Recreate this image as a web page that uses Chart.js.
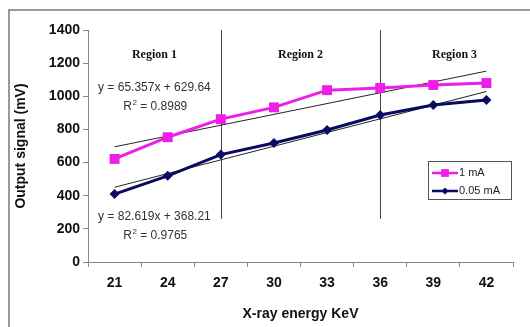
<!DOCTYPE html>
<html>
<head>
<meta charset="utf-8">
<script src="https://cdn.jsdelivr.net/npm/chart.js@4.4.1/dist/chart.umd.min.js"></script>
<style>
  html, body { margin: 0; padding: 0; background: #fff; overflow: hidden; }
  #wrap { width: 530px; height: 327px; position: relative; }
  canvas { display: block; }
</style>
</head>
<body>
<div id="wrap"><canvas id="chart" width="530" height="327"></canvas></div>
<script>
// values
const energies = ['21', '24', '27', '30', '33', '36', '39', '42'];
const signal1mA = [622, 753, 862, 933, 1037, 1050, 1068, 1080];
const signal005mA = [410, 520, 648, 718, 797, 887, 948, 978];
// linear trendline end points (at 21 and 42 keV)
const trend1mA = [695, null, null, null, null, null, null, 1152];
const trend005mA = [451, null, null, null, null, null, null, 1029];
const yTicks = [0, 200, 400, 600, 800, 1000, 1200, 1400];

const regionNames = ['Region 1', 'Region 2', 'Region 3'];
const regionBorders = ['27', '36'];
const equations = [
    { text: 'y = 65.357x + 629.64', r2: '0.8989', at: 1050 },
    { text: 'y = 82.619x + 368.21', r2: '0.9765', at: 272 }
];

const pink = '#ee1ee8';
const navy = '#0a0a60';

//draws frame, region dividers, annotations and the boxed legend
const extrasPlugin = {
    id: 'extras',
    beforeDatasetsDraw(chart) {
        const ctx = chart.ctx;
        const x = chart.scales.x, y = chart.scales.y;
        const area = chart.chartArea;
        ctx.save();
        // outer frame (top and left)
        ctx.strokeStyle = '#9a9a9a';
        ctx.lineWidth = 2;
        ctx.beginPath();
        ctx.moveTo(9, 327);
        ctx.lineTo(9, 10);
        ctx.lineTo(530, 10);
        ctx.stroke();

        // region dividers
        ctx.strokeStyle = '#444';
        ctx.lineWidth = 1;
        regionBorders.forEach(e => {
            const px = Math.round(x.getPixelForValue(energies.indexOf(e))) + 0.5;
            ctx.beginPath();
            ctx.moveTo(px, y.getPixelForValue(1400));
            ctx.lineTo(px, y.getPixelForValue(260));
            ctx.stroke();
        });

        // region titles
        const b1 = x.getPixelForValue(energies.indexOf(regionBorders[0]));
        const b2 = x.getPixelForValue(energies.indexOf(regionBorders[1]));
        const centers = [(area.left + b1) / 2, (b1 + b2) / 2, (b2 + area.right) / 2 + 8];
        ctx.fillStyle = '#111';
        ctx.font = 'bold 12px "Liberation Serif", "Times New Roman", serif';
        ctx.textAlign = 'center';
        ctx.textBaseline = 'middle';
        regionNames.forEach((n, i) => ctx.fillText(n, centers[i], y.getPixelForValue(1250)));

        // trendline equations
        ctx.fillStyle = '#333';
        equations.forEach(eq => {
            const py = y.getPixelForValue(eq.at);
            ctx.font = '12px "Liberation Sans", Arial, sans-serif';
            ctx.textAlign = 'center';
            ctx.fillText(eq.text, centers[0], py);
            const r = 'R  = ' + eq.r2;
            const w = ctx.measureText(r).width;
            const left = centers[0] - w / 2;
            ctx.textAlign = 'left';
            ctx.fillText('R', left, py + 19);
            const rw = ctx.measureText('R').width;
            ctx.fillText(' = ' + eq.r2, left + rw + 5, py + 19);
            ctx.font = '8px "Liberation Sans", Arial, sans-serif';
            ctx.fillText('2', left + rw + 0.5, py + 15);
        });
        ctx.restore();
    },
    afterDatasetsDraw(chart) {
        const ctx = chart.ctx;
        const area = chart.chartArea;
        const lx = area.right - 85, ly = area.top + 131;
        ctx.save();
        ctx.fillStyle = '#fff';
        ctx.fillRect(lx, ly, 83, 38);
        ctx.strokeStyle = '#555';
        ctx.lineWidth = 1;
        ctx.strokeRect(lx + 0.5, ly + 0.5, 83, 38);
        ctx.font = '11px "Liberation Sans", Arial, sans-serif';
        ctx.textBaseline = 'middle';
        ctx.textAlign = 'left';
        chart.data.datasets.filter(d => !d.trend).forEach((d, i) => {
            const ey = ly + 12 + i * 18;
            ctx.strokeStyle = d.borderColor;
            ctx.lineWidth = 2.5;
            ctx.beginPath();
            ctx.moveTo(lx + 4, ey);
            ctx.lineTo(lx + 30, ey);
            ctx.stroke();
            ctx.fillStyle = d.borderColor;
            ctx.lineWidth = 0;
            Chart.helpers.drawPoint(ctx, {
                pointStyle: d.pointStyle, radius: d.pointRadius - 1.5, borderWidth: 0, rotation: 0
            }, lx + 17, ey);
            ctx.fillStyle = '#222';
            ctx.fillText(d.label, lx + 31, ey);
        });
        ctx.restore();
    }
};

const tickFont = { family: '"Liberation Sans", Arial, sans-serif', size: 14, weight: 'bold' };

new Chart(document.getElementById('chart'), {
    type: 'line',
    data: {
        labels: energies,
        datasets: [
            {
                label: '1 mA', data: signal1mA, borderColor: pink, backgroundColor: pink,
                borderWidth: 3, pointStyle: 'rect', pointRadius: 7, pointBorderWidth: 0, order: 1
            },
            {
                label: '0.05 mA', data: signal005mA, borderColor: navy, backgroundColor: navy,
                borderWidth: 3, pointStyle: 'rectRot', pointRadius: 5, pointBorderWidth: 0, order: 0
            },
            {
                label: 'trend 1 mA', trend: true, data: trend1mA, borderColor: '#222', borderWidth: 1,
                pointRadius: 0, spanGaps: true, order: 2
            },
            {
                label: 'trend 0.05 mA', trend: true, data: trend005mA, borderColor: '#222', borderWidth: 1,
                pointRadius: 0, spanGaps: true, order: 2
            }
        ]
    },
    options: {
        responsive: false,
        animation: false,
        layout: { padding: { left: 10, top: 30, right: 17, bottom: 0 } },
        plugins: { legend: { display: false }, tooltip: { enabled: false } },
        scales: {
            x: {
                offset: true,
                grid: { display: true, drawOnChartArea: false, drawTicks: true, tickLength: 5, color: '#888', offset: true },
                border: { color: '#888', width: 1 },
                ticks: { font: tickFont, color: '#111', padding: 8 },
                title: { display: true, text: 'X-ray energy KeV', font: tickFont, color: '#111', padding: { top: 0, bottom: 4 } },
                afterFit: s => { s.height = 65; }
            },
            y: {
                min: 0, max: 1400,
                afterBuildTicks: s => { s.ticks = yTicks.map(v => ({ value: v })); },
                grid: { display: true, drawOnChartArea: false, drawTicks: true, tickLength: 5, color: '#888' },
                border: { color: '#888', width: 1 },
                ticks: { font: tickFont, color: '#111', padding: 3, callback: v => String(v) },
                title: { display: true, text: 'Output signal (mV)', font: tickFont, color: '#111', padding: { top: 3, bottom: 0 } },
                afterFit: s => { s.width = 78; }
            }
        }
    },
    plugins: [extrasPlugin]
});
</script>
</body>
</html>
